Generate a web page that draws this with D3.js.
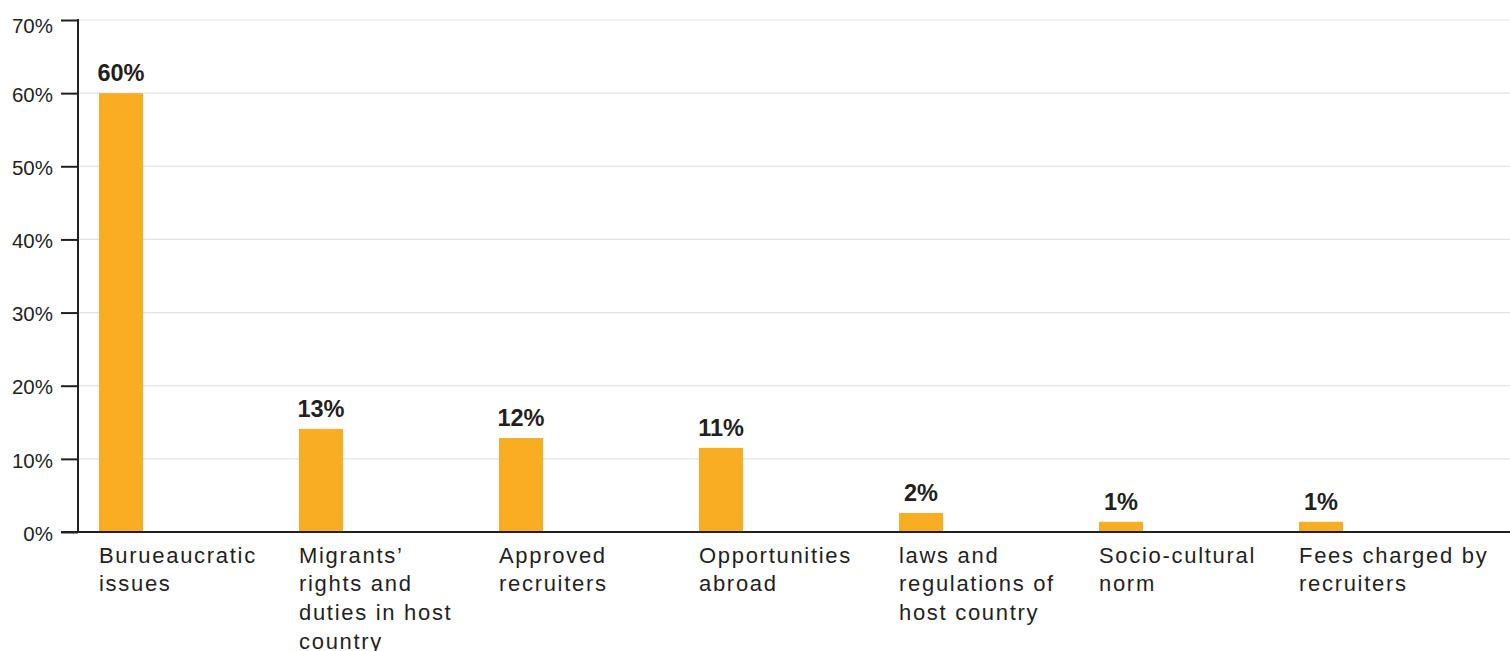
<!DOCTYPE html>
<html><head><meta charset="utf-8">
<script src="https://cdn.jsdelivr.net/npm/d3@7"></script>
<style>body{margin:0;background:#fff}svg{display:block}text{font-family:"Liberation Sans",Arial,sans-serif;fill:#231f20}</style>
</head><body><svg id="c" width="1510" height="651"></svg>
<script>
const categories = ["Burueaucratic\nissues","Migrants’\nrights and\nduties in host\ncountry","Approved\nrecruiters","Opportunities\nabroad","laws and\nregulations of\nhost country","Socio-cultural\nnorm","Fees charged by\nrecruiters"];
const values = [60, 14.1, 12.85, 11.5, 2.6, 1.4, 1.4];
const valueLabels = ["60%","13%","12%","11%","2%","1%","1%"];
const yTicks = [0,10,20,30,40,50,60,70];

const svg = d3.select("#c");
const m = {left:78, right:1510, top:20, bottom:532};
const x = d3.scaleBand().domain(categories).range([99, 99+200*7]).paddingInner(0).paddingOuter(0);
const bw = 44;
const y = d3.scaleLinear().domain([0,70]).range([m.bottom, m.top]);

// gridlines
svg.append("g").selectAll("line").data(yTicks.filter(d=>d>0)).join("line")
  .attr("x1", m.left).attr("x2", m.right).attr("y1", d=>y(d)).attr("y2", d=>y(d))
  .attr("stroke","#e3e3e3").attr("stroke-width",1.2);

// y axis
const ya = svg.append("g").attr("transform",`translate(${m.left},0)`)
  .call(d3.axisLeft(y).tickValues(yTicks).tickFormat(d=>d+"%").tickSize(17).tickPadding(8));
ya.select(".domain").remove();
ya.selectAll(".tick line").attr("stroke","#231f20").attr("stroke-width",2);
ya.selectAll(".tick text").attr("font-size",20.5).attr("fill","#231f20").attr("font-family","Liberation Sans, Arial, sans-serif")
  .attr("dy", d => d===70 ? "0.6em" : "0.4em");
svg.append("line").attr("x1",m.left).attr("x2",m.left).attr("y1",y(70)-1).attr("y2",y(0))
  .attr("stroke","#231f20").attr("stroke-width",2);

// bars
svg.append("g").selectAll("rect").data(values).join("rect")
  .attr("x",(d,i)=>x(categories[i])).attr("width",bw)
  .attr("y",d=>y(d)).attr("height",d=>y(0)-y(d)).attr("fill","#f9ad22");

// baseline
svg.append("line").attr("x1",m.left-17).attr("x2",m.right).attr("y1",y(0)).attr("y2",y(0))
  .attr("stroke","#231f20").attr("stroke-width",2);

// value labels
svg.append("g").selectAll("text").data(values).join("text")
  .attr("x",(d,i)=>x(categories[i])+bw/2).attr("y",d=>y(d)-12)
  .attr("text-anchor","middle").attr("font-size",23.5).attr("font-weight","bold")
  .text((d,i)=>valueLabels[i]);

// category labels
const cl = svg.append("g").selectAll("text").data(categories).join("text")
  .attr("x",d=>x(d)).attr("y",562.5).attr("font-size",22).attr("letter-spacing","1.7px");
cl.each(function(d){
  const t = d3.select(this);
  d.split("\n").forEach((ln,j)=>{
    t.append("tspan").attr("x",x(d)).attr("dy", j===0?0:28.8).text(ln);
  });
});
</script></body></html>
